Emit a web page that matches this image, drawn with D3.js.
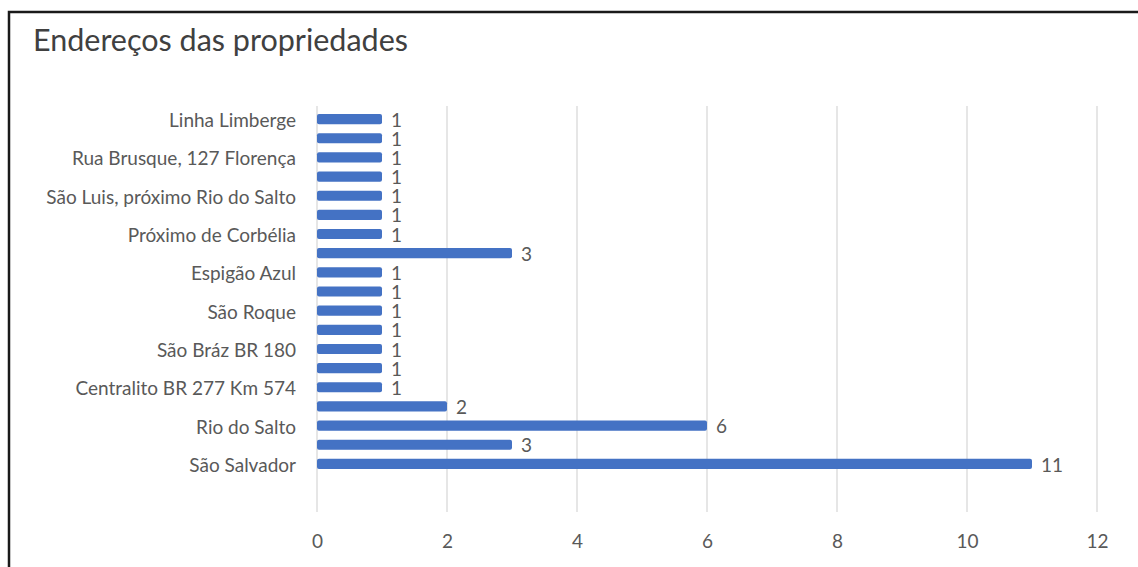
<!DOCTYPE html>
<html>
<head>
<meta charset="utf-8">
<script src="https://cdn.jsdelivr.net/npm/d3@7"></script>
<style>
  body { margin: 0; background: #fff; }
  svg text { font-family: Lato, "Open Sans", sans-serif; fill: #595959; }
</style>
</head>
<body>
<div id="chartDivId"></div>
<script>
// Categories in Excel order (first one drawn at the bottom).
// Empty strings are the categories whose labels Excel skipped.
const categories = [
    "São Salvador", "", "Rio do Salto", "", "Centralito BR 277 Km 574", "",
    "São Bráz BR 180", "", "São Roque", "", "Espigão Azul", "",
    "Próximo de Corbélia", "", "São Luis, próximo Rio do Salto", "",
    "Rua Brusque, 127 Florença", "", "Linha Limberge"
];
const values = [11, 3, 6, 2, 1, 1, 1, 1, 1, 1, 1, 3, 1, 1, 1, 1, 1, 1, 1];
const xTicks = [0, 2, 4, 6, 8, 10, 12];
const title = "Endereços das propriedades";

const width = 1138, height = 567;

var svg = d3.select("#chartDivId")
    .append("svg")
    .attr("width", width)
    .attr("height", height);

// frame (only left and top edges are visible in the crop)
svg.append("path")
    .attr("d", "M9,567V12H1138")
    .attr("fill", "none")
    .attr("stroke", "#1a1a1a")
    .attr("stroke-width", 2.5);

svg.append("text")
    .attr("x", 33)
    .attr("y", 51)
    .style("font-size", "30.5px")
    .style("fill", "#404040")
    .text(title);

var data = categories.map(function(c, i) { return { idx: i, name: c, value: values[i] }; });

var x = d3.scaleLinear().domain([0, 12]).range([317, 1097]);
var y = d3.scaleBand()
    .domain(d3.range(categories.length).reverse())
    .range([109.5, 473.5])
    .paddingInner(0.47)
    .paddingOuter(0.235);

// gridlines
svg.append("g")
    .selectAll("line")
    .data(xTicks)
    .enter().append("line")
    .attr("x1", function(d) { return x(d); })
    .attr("x2", function(d) { return x(d); })
    .attr("y1", 106)
    .attr("y2", 512)
    .attr("stroke", "#d9d9d9")
    .attr("stroke-width", 1.3);

// x axis labels
var xAxis = d3.axisBottom(x).tickValues(xTicks).tickSize(0).tickPadding(0);
var gx = svg.append("g")
    .attr("transform", "translate(0,534)")
    .call(xAxis);
gx.select(".domain").remove();
gx.selectAll("text")
    .attr("dy", "0.71em")
    .style("font-family", "Lato, 'Open Sans', sans-serif")
    .style("font-size", "19px")
    .style("fill", "#595959");

// bars
svg.append("g")
    .selectAll("rect")
    .data(data)
    .enter().append("rect")
    .attr("x", x(0))
    .attr("y", function(d) { return y(d.idx); })
    .attr("width", function(d) { return x(d.value) - x(0); })
    .attr("height", y.bandwidth())
    .attr("rx", 2)
    .style("fill", "#4472c4");

// value labels
svg.append("g")
    .selectAll("text")
    .data(data)
    .enter().append("text")
    .attr("x", function(d) { return x(d.value) + 9; })
    .attr("y", function(d) { return y(d.idx) + y.bandwidth() / 2; })
    .attr("dy", "0.4em")
    .style("font-size", "19px")
    .text(function(d) { return d.value; });

// category labels (Excel shows every other one)
svg.append("g")
    .selectAll("text")
    .data(data.filter(function(d) { return d.name !== ""; }))
    .enter().append("text")
    .attr("x", 296)
    .attr("y", function(d) { return y(d.idx) + y.bandwidth() / 2; })
    .attr("dy", "0.42em")
    .style("text-anchor", "end")
    .style("font-size", "19px")
    .text(function(d) { return d.name; });
</script>
</body>
</html>
